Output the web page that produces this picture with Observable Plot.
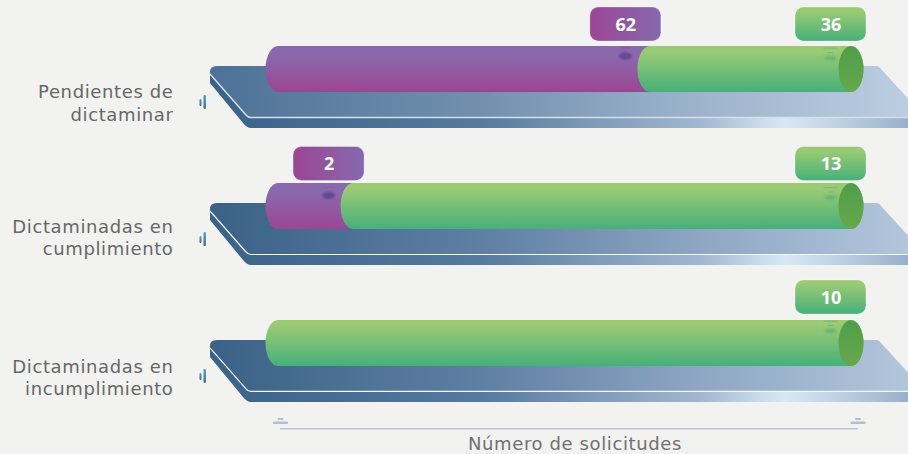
<!DOCTYPE html>
<html lang="es">
<head>
<meta charset="utf-8">
<script src="https://cdn.jsdelivr.net/npm/d3@7"></script>
<script src="https://cdn.jsdelivr.net/npm/@observablehq/plot@0.6"></script>
<style>
html,body{margin:0;padding:0;background:#f2f2f0;overflow:hidden}
svg{display:block}
g[font-family="DejaVu Sans"]{letter-spacing:.62px}
</style>
</head>
<body>
<div id="chart"></div>
<script>
const categories = ["Pendientes de\ndictaminar", "Dictaminadas en\ncumplimiento", "Dictaminadas en\nincumplimiento"];
const purpleValues = [62, 2, null];
const greenValues = [36, 13, 10];
// where the green cylinder starts along the bar, in % of its length
const greenStartShare = [64.9, 13.1, 0];
const axisTitle = "Número de solicitudes";

const rows = categories.map((category, i) => ({
  category, purple: purpleValues[i], green: greenValues[i], start: greenStartShare[i], row: i
}));
const purpleRows = rows.filter(d => d.purple != null);

// small per-row layout offsets of the source artwork
const pillShift = [0, 2.5, -1];
const labelShift = [0, -2, 1];

function stops(grad, list) {
  list.forEach(([o, c]) => grad.append("stop").attr("offset", o).attr("stop-color", c));
}
function defs() {
  const el = d3.create("svg:defs");
  const lin = (id, x2, y2, list) => stops(
    el.append("linearGradient").attr("id", id).attr("x1", 0).attr("y1", 0).attr("x2", x2).attr("y2", y2), list);
  lin("gPurple", 0, 1, [[0, "#8869ad"], [0.22, "#8a68ac"], [1, "#9c4593"]]);
  lin("gGreen", 0, 1, [[0, "#9dca74"], [0.12, "#9aca75"], [1, "#46b07a"]]);
  lin("gCap", 0, 1, [[0, "#4f9e4b"], [1, "#67a84b"]]);
  lin("gPillPurple", 1, 0, [[0, "#9c4593"], [1, "#8569ae"]]);
  lin("gFace0", 1, 0, [[0, "#4d7297"], [0.38, "#7290ae"], [0.68, "#9db3cc"], [1, "#bdd0e3"]]);
  lin("gFace1", 1, 0, [[0, "#3a6187"], [0.38, "#5f7fa3"], [0.68, "#8ea6c3"], [1, "#b5c9dd"]]);
  lin("gSide", 1, 0, [[0, "#3a6287"], [0.38, "#557a9e"], [0.52, "#7b98b5"], [0.68, "#a0b6cf"], [0.8, "#d8e8f5"], [0.9, "#b5c8dd"], [1, "#8fa6c2"]]);
  lin("gTick", 0, 1, [[0, "#5c9cc4"], [1, "#3a6a95"]]);
  const f = el.append("filter").attr("id", "soft").attr("x", "-50%").attr("y", "-50%").attr("width", "200%").attr("height", "200%");
  f.append("feGaussianBlur").attr("stdDeviation", 1.1);
  return el.node();
}

// The inclined platform under each bar, hung from the scales
function platforms(index, {x, y}) {
  const g = d3.create("svg:g");
  rows.forEach((d, i) => {
    const t = y(d.category), l = x(0);
    const X = dx => l + dx;
    g.append("path").attr("fill", "url(#gSide)").attr("d",
      `M${X(-68)},${t+28} L${X(-68)},${t+37} L${X(-35)},${t+77} Q${X(-31)},${t+82} ${X(-27)},${t+82} L${X(650)},${t+82} L${X(650)},${t+60} Z`);
    g.append("path").attr("fill", `url(#gFace${i === 0 ? 0 : 1})`).attr("d",
      `M${X(-61)},${t+20} L${X(599)},${t+20} Q${X(601)},${t+20} ${X(603)},${t+23} L${X(647)},${t+71} L${X(-30)},${t+71} L${X(-68)},${t+28} Q${X(-69)},${t+20} ${X(-61)},${t+20} Z`);
    g.append("path").attr("fill", "none").attr("stroke", i === 0 ? "#d5dfe9" : "#f4f6f8").attr("stroke-width", i === 0 ? 1.5 : 1.2).attr("d",
      `M${X(-68)},${t+28} L${X(-32)},${t+69} Q${X(-30)},${t+71.5} ${X(-27)},${t+71.5} L${X(650)},${t+71.5}`);
    g.append("rect").attr("x", X(-74.5)).attr("y", t + 49).attr("width", 2.4).attr("height", 14).attr("rx", 1.2).attr("fill", "url(#gTick)");
    g.append("rect").attr("x", X(-78.5)).attr("y", t + 53).attr("width", 2).attr("height", 7).attr("rx", 1).attr("fill", "url(#gTick)");
  });
  return g.node();
}

// Faint marks the pills leave on top of the cylinders
function ghosts(index, {x, y}) {
  const g = d3.create("svg:g");
  rows.forEach((d, i) => {
    const t = y(d.category) + pillShift[i];
    if (d.purple != null) {
      const c = x(d.start) - 24.5;
      g.append("rect").attr("x", c - 5).attr("y", t + 1).attr("width", 10).attr("height", 1.6).attr("rx", 0.8).attr("fill", "#a34f9c").attr("opacity", 0.7);
      g.append("rect").attr("x", c - 2).attr("y", t + 5).attr("width", 4).attr("height", 1).attr("fill", "#a34f9c").attr("opacity", 0.6);
      g.append("ellipse").attr("cx", c).attr("cy", t + 10).attr("rx", 6.5).attr("ry", 3.6).attr("fill", "#654690").attr("filter", "url(#soft)");
    }
    const c = x(100) - 20.5;
    g.append("rect").attr("x", c - 7).attr("y", t + 1.6).attr("width", 14).attr("height", 1.2).attr("fill", "#7dbb6e").attr("opacity", 0.9);
    g.append("rect").attr("x", c - 3).attr("y", t + 6).attr("width", 6).attr("height", 1).attr("fill", "#74ba6e");
    g.append("ellipse").attr("cx", c).attr("cy", t + 12).attr("rx", 6).attr("ry", 2.6).attr("fill", "#6bb573").attr("filter", "url(#soft)");
  });
  return g.node();
}

// Axis line with its two small end glyphs
function axisLine(index, {x}, values, {height}) {
  const g = d3.create("svg:g").attr("fill", "#b6bdd3");
  const y0 = height - 26;
  g.append("rect").attr("x", x(0) + 2).attr("y", y0).attr("width", x(100) - x(0) + 5).attr("height", 1.4).attr("fill", "#bcc2d6");
  [x(0) + 2.5, x(100) + 7].forEach(c => {
    g.append("rect").attr("x", c - 7.5).attr("y", y0 - 6.5).attr("width", 15).attr("height", 2.4).attr("rx", 1);
    g.append("rect").attr("x", c - 3).attr("y", y0 - 10).attr("width", 6).attr("height", 2).attr("rx", 1);
  });
  return g.node();
}

const cyl = {insetLeft: -12.5, insetRight: -12.5, rx: 12.5, ry: 23};
const pill = {insetTop: -39, insetBottom: 51, rx: 8.5, stroke: "#ffffff", strokeOpacity: 0.3, strokeWidth: 1};
const numberText = {fill: "white", fontFamily: "Open Sans", fontWeight: 700, fontSize: 18};

const plot = Plot.plot({
  width: 908,
  height: 454,
  marginLeft: 278,
  marginRight: 57,
  marginTop: 46,
  marginBottom: 88,
  style: {background: "#f2f2f0", overflow: "visible"},
  x: {domain: [0, 100], axis: null},
  y: {domain: categories, axis: null, paddingInner: 0.664, paddingOuter: 0, round: false},
  marks: [
    defs,
    platforms,
    Plot.barX(purpleRows, {x1: 0, x2: "start", y: "category", fill: "url(#gPurple)", ...cyl}),
    Plot.barX(rows, {x1: "start", x2: 100, y: "category", fill: "url(#gGreen)", ...cyl}),
    ghosts,
    Plot.barX(rows, {x1: 100, x2: 100, y: "category", fill: "url(#gCap)", ...cyl}),
    // value pills and their numbers
    purpleRows.map(d => [
      Plot.barX([d], {x1: "start", x2: "start", y: "category", fill: "url(#gPillPurple)",
        insetLeft: -60, insetRight: -11, dy: pillShift[d.row], ...pill}),
      Plot.text([d], {x: "start", y: "category", text: "purple", dx: -24.5, dy: -44.5 + pillShift[d.row], ...numberText})
    ]),
    rows.map(d => [
      Plot.barX([d], {x1: 100, x2: 100, y: "category", fill: "url(#gGreen)",
        insetLeft: -56, insetRight: -15, dy: pillShift[d.row], ...pill}),
      Plot.text([d], {x: 100, y: "category", text: "green", dx: -20.5, dy: -44.5 + pillShift[d.row], ...numberText})
    ]),
    // category labels
    rows.map(d => Plot.text([d], {x: 0, y: "category", text: "category", dx: -105, dy: 32.4 + labelShift[d.row], textAnchor: "end",
      fill: "#676767", fontFamily: "DejaVu Sans", fontSize: 18, lineHeight: 1.26})),
    axisLine,
    Plot.text([axisTitle], {x: 50, frameAnchor: "bottom", dx: 10, dy: 83.5,
      fill: "#707070", fontFamily: "DejaVu Sans", fontSize: 18})
  ]
});
document.getElementById("chart").append(plot);
</script>
</body>
</html>
